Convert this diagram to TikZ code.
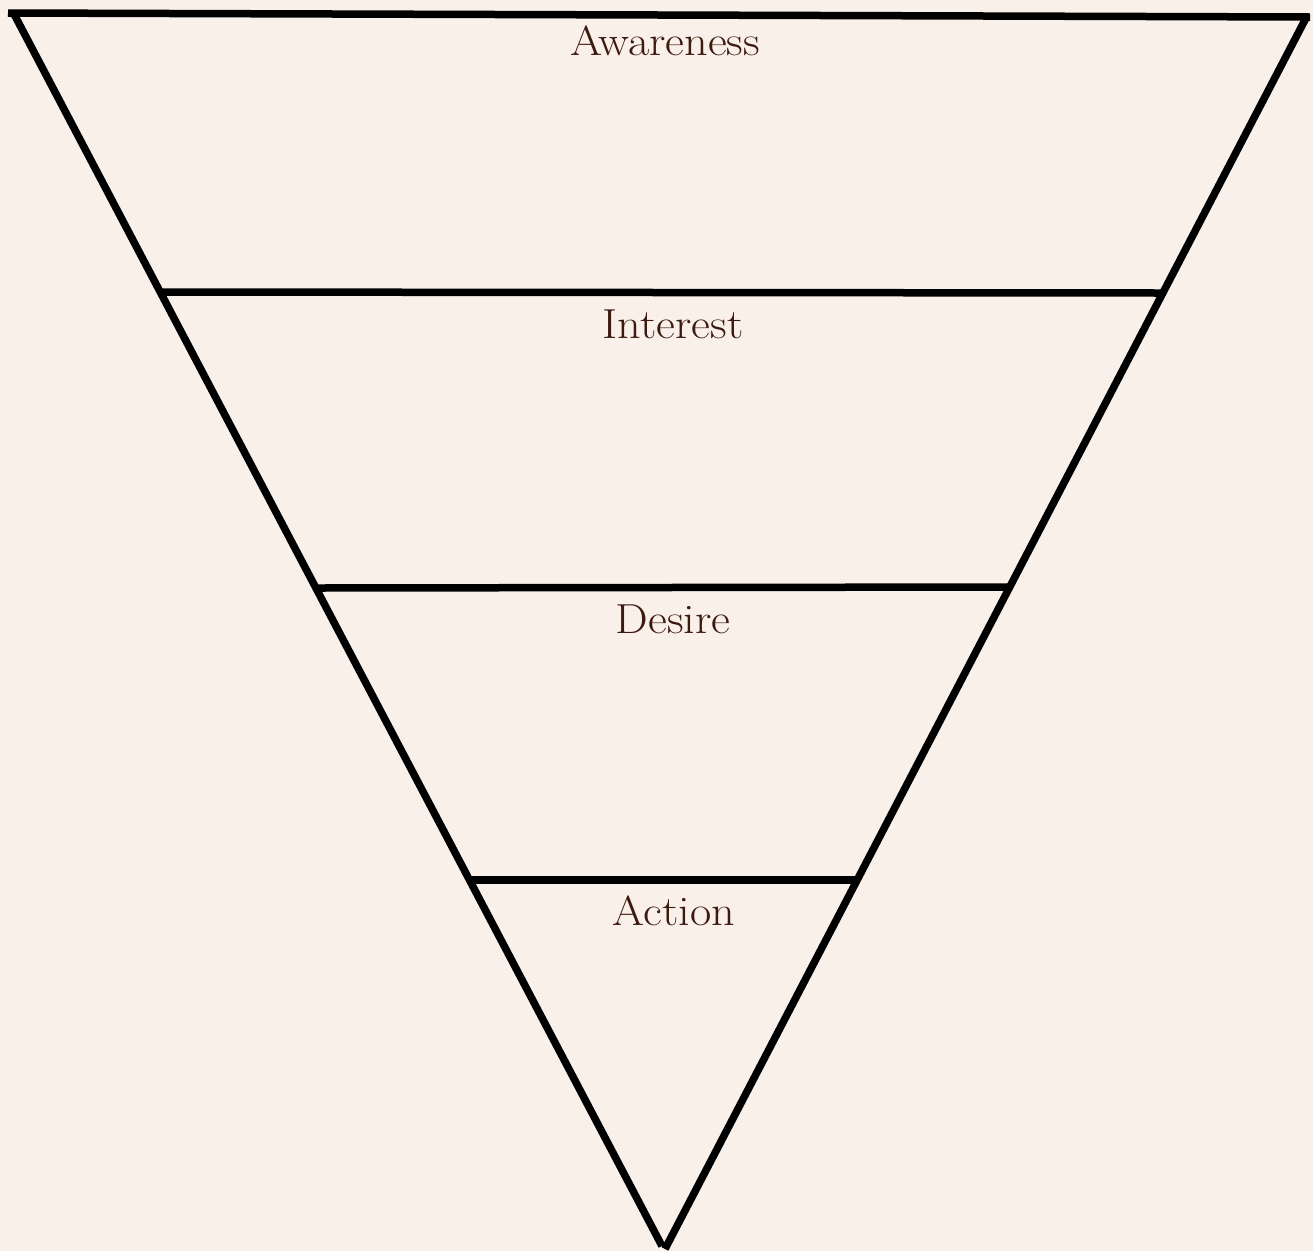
\documentclass[tikz,border=0pt]{standalone}
\definecolor{bg}{HTML}{FAF0EA}
\definecolor{txt}{HTML}{3D1A10}
\newcommand{\widetext}[1]{\scalebox{1.1}[1]{#1}}
\begin{document}
\begin{tikzpicture}[x=1pt,y=-1pt,
  edge/.style={line width=7.5pt,line cap=butt,black},
  label/.style={text=txt,font=\fontsize{42}{46}\selectfont,inner sep=0pt,anchor=base}]
\fill[bg] (0,0) rectangle (1313,1251);
\useasboundingbox (0,0) rectangle (1313,1251);
% corners
\coordinate (tl) at (8,13);
\coordinate (tr) at (1310,17);
\coordinate (lt) at (14,14);
\coordinate (lb) at (662,1246);
\coordinate (rt) at (1306,18);
\coordinate (rb) at (665,1249);
% rungs
\coordinate (a1) at (160,292);
\coordinate (b1) at (1163,293);
\coordinate (a2) at (316,588);
\coordinate (b2) at (1009,587);
\coordinate (a3) at (469,880);
\coordinate (b3) at (857,880);
\draw[edge] (tl) -- (tr);
\draw[edge] (lt) -- (lb);
\draw[edge] (rt) -- (rb);
\draw[edge] (a1) -- (b1);
\draw[edge] (a2) -- (b2);
\draw[edge] (a3) -- (b3);
\node[label] (aw) at (665,55) {\widetext{Awareness}};
\node[label] (in) at (673,338) {\widetext{Interest}};
\node[label] (de) at (673,633) {\widetext{Desire}};
\node[label] (ac) at (674,925) {\widetext{Action}};
\end{tikzpicture}
\end{document}
